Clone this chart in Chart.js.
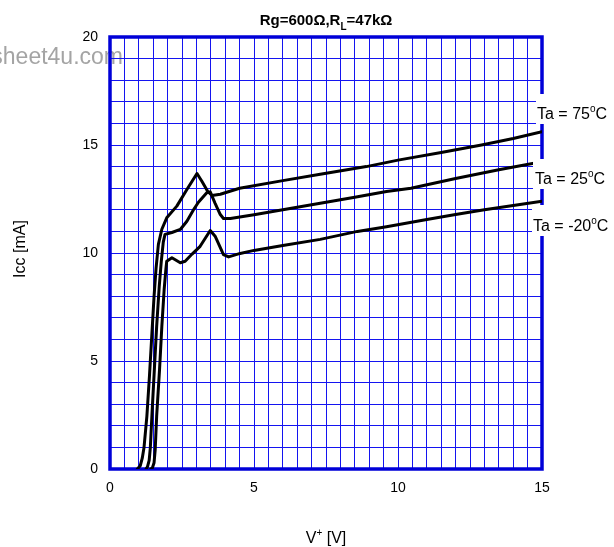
<!DOCTYPE html>
<html>
<head>
<meta charset="utf-8">
<script src="https://cdn.jsdelivr.net/npm/chart.js@4.4.0/dist/chart.umd.min.js"></script>
<style>
  html, body { margin: 0; padding: 0; background: #fff; }
  canvas { display: block; }
</style>
</head>
<body>
<canvas id="myChart" width="614" height="547"></canvas>
<script>
// Icc vs V+ (V in volts, Icc in mA)
const v75 = [0.95, 1.05, 1.12, 1.18, 1.28, 1.37, 1.45, 1.53, 1.6, 1.68, 1.8, 1.97, 2.32, 2.67, 3.02, 3.19, 3.39, 3.54, 3.83, 4.5, 6.0, 7.3, 8.9, 10.0, 11.5, 12.9, 14.0, 15.0];
const i75 = [0, 0.15, 0.5, 0.98, 2.44, 4.3, 6.15, 8.0, 9.3, 10.4, 11.1, 11.63, 12.17, 12.94, 13.68, 13.32, 12.86, 12.66, 12.72, 13.0, 13.35, 13.65, 14.0, 14.3, 14.65, 15.0, 15.3, 15.62];

const v25 = [1.25, 1.3, 1.36, 1.4, 1.46, 1.54, 1.62, 1.71, 1.78, 1.85, 1.91, 2.15, 2.44, 2.67, 2.9, 3.07, 3.36, 3.48, 3.65, 3.83, 3.94, 4.18, 5.0, 6.0, 7.3, 8.5, 9.6, 10.45, 12.0, 13.5, 15.0];
const i25 = [0, 0.1, 0.4, 0.98, 2.6, 4.6, 6.6, 8.46, 9.6, 10.5, 10.86, 10.95, 11.09, 11.47, 12.0, 12.35, 12.79, 12.83, 12.3, 11.78, 11.6, 11.6, 11.77, 12.0, 12.3, 12.58, 12.85, 13.0, 13.45, 13.85, 14.22];

const vM20 = [1.42, 1.47, 1.53, 1.57, 1.62, 1.72, 1.8, 1.88, 1.94, 1.97, 2.15, 2.44, 2.61, 2.85, 3.13, 3.48, 3.65, 3.94, 4.12, 4.52, 5.0, 6.0, 7.3, 8.59, 9.6, 11.0, 12.0, 13.0, 14.0, 15.0];
const iM20 = [0, 0.05, 0.29, 0.9, 2.44, 4.6, 6.6, 8.3, 9.24, 9.62, 9.78, 9.55, 9.62, 9.95, 10.31, 11.04, 10.78, 9.93, 9.82, 9.98, 10.12, 10.35, 10.63, 11.0, 11.22, 11.55, 11.78, 12.0, 12.2, 12.4];

const tempLabels = ["75", "25", "-20"]; // Ta = ..°C
const xRange = [0, 15], xGridStep = 0.5, xLabelStep = 5;
const yRange = [0, 20], yGridStep = 1, yLabelStep = 5;

const FONT = "'Liberation Sans', Arial, sans-serif";
Chart.defaults.font.family = FONT;
Chart.defaults.color = "#000";

const GRID = "#1414f0";
const FRAME = "#0000d8";

function toPoints(vs, is) {
  return vs.map((v, k) => ({ x: v, y: is[k] }));
}

// draw a row of text pieces (for sub/superscripts), centred or left aligned
function drawParts(ctx, parts, x, y, align) {
  let total = 0;
  parts.forEach(p => { ctx.font = p.font; total += ctx.measureText(p.t).width; });
  let cx = align === "center" ? x - total / 2 : x;
  ctx.textAlign = "left";
  ctx.textBaseline = "alphabetic";
  parts.forEach(p => {
    ctx.font = p.font;
    ctx.fillText(p.t, cx, y + (p.dy || 0));
    cx += ctx.measureText(p.t).width;
  });
}

const sheetDecor = {
  id: "sheetDecor",
  beforeDraw(chart) {
    const ctx = chart.ctx;
    ctx.save();
    ctx.fillStyle = "#fff";
    ctx.fillRect(0, 0, chart.width, chart.height);
    // watermark
    ctx.fillStyle = "#a4a4a4";
    ctx.font = "23px " + FONT;
    ctx.textAlign = "right";
    ctx.textBaseline = "alphabetic";
    ctx.fillText("datasheet4u.com", 123, 64);
    ctx.restore();
  },
  beforeDatasetsDraw(chart) {
    const { ctx, chartArea: a } = chart;
    ctx.save();
    ctx.strokeStyle = FRAME;
    ctx.lineWidth = 3.5;
    ctx.strokeRect(a.left, a.top, a.right - a.left, a.bottom - a.top);
    ctx.restore();
  },
  afterDraw(chart) {
    const { ctx, chartArea: a } = chart;
    ctx.save();
    ctx.fillStyle = "#000";

    // title
    drawParts(ctx, [
      { t: "Rg=600\u03A9,R", font: "bold 15px " + FONT },
      { t: "L", font: "bold 10px " + FONT, dy: 5 },
      { t: "=47k\u03A9", font: "bold 15px " + FONT }
    ], (a.left + a.right) / 2, 25, "center");

    // curve labels on white patches over the right frame
    const boxes = [
      { x: 536, y: 94, w: 78, h: 30, tx: 537, ty: 119 },
      { x: 533, y: 159, w: 81, h: 30, tx: 535, ty: 184 },
      { x: 532, y: 205, w: 82, h: 31, tx: 533, ty: 231 }
    ];
    boxes.forEach((b, k) => {
      ctx.fillStyle = "#fff";
      ctx.fillRect(b.x, b.y, b.w, b.h);
      ctx.fillStyle = "#000";
      drawParts(ctx, [
        { t: "Ta = " + tempLabels[k], font: "16px " + FONT },
        { t: "o", font: "10px " + FONT, dy: -7 },
        { t: "C", font: "16px " + FONT }
      ], b.tx, b.ty, "left");
    });

    // x axis title
    drawParts(ctx, [
      { t: "V", font: "16px " + FONT },
      { t: "+", font: "10px " + FONT, dy: -7 },
      { t: " [V]", font: "16px " + FONT }
    ], (a.left + a.right) / 2, 543, "center");

    // y axis title
    ctx.translate(25, 249);
    ctx.rotate(-Math.PI / 2);
    ctx.font = "16px " + FONT;
    ctx.textAlign = "center";
    ctx.textBaseline = "alphabetic";
    ctx.fillText("Icc [mA]", 0, 0);
    ctx.restore();
  }
};

const curveStyle = {
  borderColor: "#000",
  borderWidth: 3,
  pointRadius: 0,
  fill: false,
  tension: 0,
  borderJoinStyle: "round",
  borderCapStyle: "round"
};

const ctx = document.getElementById("myChart").getContext("2d");
const chart = new Chart(ctx, {
  type: "line",
  data: {
    datasets: [
      { label: "Ta = 75", data: toPoints(v75, i75), ...curveStyle },
      { label: "Ta = 25", data: toPoints(v25, i25), ...curveStyle },
      { label: "Ta = -20", data: toPoints(vM20, iM20), ...curveStyle }
    ]
  },
  options: {
    responsive: false,
    animation: false,
    devicePixelRatio: 1,
    layout: { padding: { left: 0, right: 72, top: 37, bottom: 0 } },
    plugins: {
      legend: { display: false },
      tooltip: { enabled: false }
    },
    scales: {
      x: {
        type: "linear",
        min: xRange[0],
        max: xRange[1],
        afterFit(s) { s.height = 78; },
        border: { display: false },
        grid: { color: GRID, lineWidth: 1, drawTicks: false },
        ticks: {
          stepSize: xGridStep,
          autoSkip: false,
          maxTicksLimit: 100,
          maxRotation: 0,
          padding: 11,
          font: { size: 14 },
          callback: v => (v % xLabelStep === 0 ? v : "")
        }
      },
      y: {
        type: "linear",
        min: yRange[0],
        max: yRange[1],
        afterFit(s) { s.width = 110; },
        border: { display: false },
        grid: { color: GRID, lineWidth: 1, drawTicks: false },
        ticks: {
          stepSize: yGridStep,
          autoSkip: false,
          maxTicksLimit: 100,
          padding: 12,
          font: { size: 14 },
          callback: v => (v % yLabelStep === 0 ? v : "")
        }
      }
    }
  },
  plugins: [sheetDecor]
});
</script>
</body>
</html>
